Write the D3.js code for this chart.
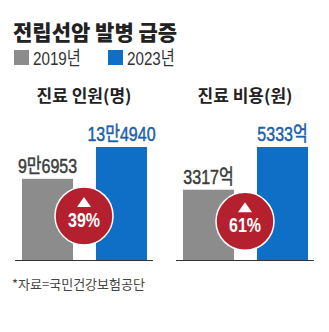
<!DOCTYPE html>
<html>
<head>
<meta charset="utf-8">
<script src="https://cdn.jsdelivr.net/npm/d3@7"></script>
<style>
  body { margin: 0; background: #fff; }
  text { font-family: "Noto Sans CJK KR", "Noto Sans", sans-serif; }
  .num { font-family: "Liberation Sans", "Noto Sans CJK KR", sans-serif; }
</style>
</head>
<body>
<div id="chart"></div>
<script>
// Data
var years = ["2019년", "2023년"];
var colors = ["#8c8c8c", "#0f6fc6"];
var panelTitles = ["진료 인원(명)", "진료 비용(원)"];
var patients = [96953, 134940];
var costs = [3317, 5333];
var patientLabels = ["9만6953", "13만4940"];
var costLabels = ["3317억", "5333억"];
var increases = ["39%", "61%"];

var width = 329, height = 332;
var squeeze = 0.8; // condensed look of the original lettering

var svg = d3.select("#chart")
  .append("svg")
  .attr("width", width)
  .attr("height", height);

// Headline
svg.append("text")
  .attr("x", 13)
  .attr("y", 40)
  .style("font-size", "21px")
  .style("font-weight", "900")
  .style("fill", "#222")
  .text("전립선암 발병 급증");

// Legend
var legend = svg.append("g")
  .selectAll("g")
  .data(years)
  .enter().append("g")
  .attr("transform", function(d, i) { return "translate(" + (14 + i * 94) + ",50)"; });

legend.append("rect")
  .attr("width", 15)
  .attr("height", 15)
  .attr("fill", function(d, i) { return colors[i]; });

legend.append("text")
  .attr("class", "num")
  .attr("transform", "translate(19,15) scale(" + squeeze + ",1)")
  .style("font-size", "19px")
  .style("fill", "#333")
  .text(function(d) { return d; });

var panels = [
  { values: patients, labels: patientLabels, title: panelTitles[0], inc: increases[0], dx: 0 },
  { values: costs, labels: costLabels, title: panelTitles[1], inc: increases[1], dx: 161 }
];

var baseline = 260;

panels.forEach(function(p) {
  var g = svg.append("g").attr("transform", "translate(" + p.dx + ",0)");

  var x = d3.scaleBand()
    .domain(years)
    .range([22, 147])
    .paddingInner(0.31);

  var y = d3.scaleLinear()
    .domain([0, d3.max(p.values)])
    .range([baseline, 147]);

  // panel title
  g.append("text")
    .attr("x", 84)
    .attr("y", 102)
    .attr("text-anchor", "middle")
    .style("font-size", "17px")
    .style("font-weight", "bold")
    .style("fill", "#222")
    .text(p.title);

  // bars
  g.selectAll(".bar")
    .data(p.values)
    .enter().append("rect")
    .attr("x", function(d, i) { return x(years[i]); })
    .attr("y", function(d) { return y(d); })
    .attr("width", x.bandwidth())
    .attr("height", function(d) { return baseline - y(d); })
    .attr("fill", function(d, i) { return colors[i]; });

  // value labels
  g.selectAll(".label")
    .data(p.values)
    .enter().append("text")
    .attr("class", "num")
    .attr("transform", function(d, i) {
      return "translate(" + (x(years[i]) + x.bandwidth() / 2) + "," + (y(d) - 6) + ") scale(" + squeeze + ",1)";
    })
    .attr("text-anchor", "middle")
    .style("font-size", "20px")
    .style("fill", function(d, i) { return i === 0 ? "#3c3c3c" : "#1d5fa8"; })
    .style("stroke", function(d, i) { return i === 0 ? "#3c3c3c" : "#1d5fa8"; })
    .style("stroke-width", 0.5)
    .text(function(d, i) { return p.labels[i]; });

  // baseline
  g.append("line")
    .attr("x1", 15).attr("x2", 153)
    .attr("y1", baseline + 0.5).attr("y2", baseline + 0.5)
    .attr("stroke", "#333")
    .attr("stroke-width", 1);

  // increase badge
  var cx = 84, cy = (y(p.values[0]) + baseline) / 2 - 3.5;
  var badge = g.append("g").attr("transform", "translate(" + cx + "," + cy + ")");
  badge.append("circle")
    .attr("r", 29)
    .attr("fill", "#b5202e")
    .attr("stroke", "#fff")
    .attr("stroke-width", 1.5);
  badge.append("path")
    .attr("d", "M0,-19 L7,-9 L-7,-9 Z")
    .attr("fill", "#fff");
  badge.append("text")
    .attr("class", "num")
    .attr("transform", "translate(0,11) scale(" + squeeze + ",1)")
    .attr("text-anchor", "middle")
    .style("font-size", "20px")
    .style("font-weight", "bold")
    .style("fill", "#fff")
    .text(p.inc);
});

// Source
svg.append("text")
  .attr("x", 12)
  .attr("y", 289)
  .style("font-size", "13px")
  .style("fill", "#444")
  .text("*자료=국민건강보험공단");
</script>
</body>
</html>
